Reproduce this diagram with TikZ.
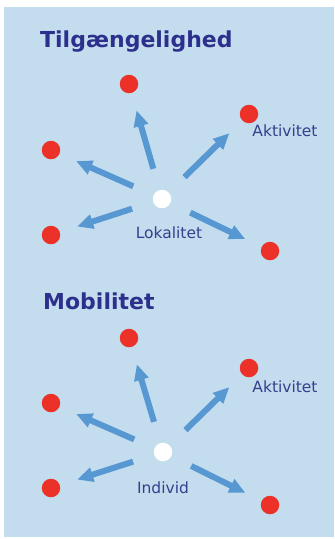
\documentclass[tikz,border=0pt]{standalone}
\usepackage{fontspec}
\setmainfont{DejaVu Sans}
\usetikzlibrary{arrows.meta}
\definecolor{bgblue}{HTML}{C3DDEE}
\definecolor{arrblue}{HTML}{5797D2}
\definecolor{dotred}{HTML}{EC3129}
\definecolor{titleblue}{HTML}{2C308C}
\definecolor{labelblue}{HTML}{353F8E}
\tikzset{
  reddot/.style={circle,fill=dotred,inner sep=0pt,minimum size=18.5pt},
  hub/.style={circle,fill=white,inner sep=0pt,minimum size=18.5pt},
  arr/.style={draw=arrblue,line width=6pt,shorten <=22pt,shorten >=18pt,
    -{Triangle[length=16pt,width=14pt]}},
  ttl/.style={text=titleblue,font=\fontsize{22}{26}\selectfont\bfseries,anchor=base west,inner sep=0pt},
  lbl/.style={text=labelblue,font=\fontsize{15.5}{18}\selectfont,inner sep=0pt}
}
\begin{document}
\begin{tikzpicture}[x=1pt,y=-1pt]
\useasboundingbox (0,0) rectangle (335,539);
\fill[bgblue] (4,7) rectangle (334,537);
% top panel
\node[ttl] (t1) at (40,47) {Tilgængelighed};
\node[hub] (c1) at (162,199) {};
\node[reddot] (a1) at (129,84) {};
\node[reddot] (b1) at (249,114) {};
\node[reddot] (d1) at (51,150) {};
\node[reddot] (e1) at (51,235) {};
\node[reddot] (f1) at (270,251) {};
\draw[arr] (c1) -- (a1);
\draw[arr] (c1) -- (b1);
\draw[arr] (c1) -- (d1);
\draw[arr] (c1) -- (e1);
\draw[arr] (c1) -- (f1);
\node[lbl] (l1) at (285,131) {Aktivitet};
\node[lbl] (m1) at (169,233) {Lokalitet};
% bottom panel
\node[ttl] (t2) at (43,309) {Mobilitet};
\node[hub] (c2) at (163,452) {};
\node[reddot] (a2) at (129,338) {};
\node[reddot] (b2) at (249,368) {};
\node[reddot] (d2) at (51,403) {};
\node[reddot] (e2) at (51,488) {};
\node[reddot] (f2) at (270,505) {};
\draw[arr] (c2) -- (a2);
\draw[arr] (c2) -- (b2);
\draw[arr] (c2) -- (d2);
\draw[arr] (c2) -- (e2);
\draw[arr] (c2) -- (f2);
\node[lbl] (l2) at (285,387) {Aktivitet};
\node[lbl] (m2) at (163,488) {Individ};
\end{tikzpicture}
\end{document}
